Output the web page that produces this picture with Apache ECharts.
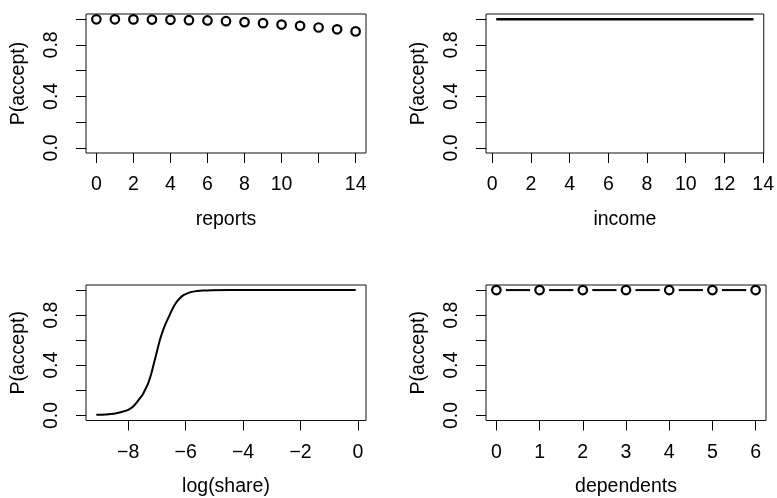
<!DOCTYPE html>
<html><head><meta charset="utf-8">
<script src="https://cdn.jsdelivr.net/npm/echarts@6/dist/echarts.min.js"></script>
<style>html,body{margin:0;padding:0;background:#fff}#c{width:777px;height:498px}</style>
</head><body><div id="c"></div>
<script>
// ---- data ----
const reportsX = [0,1,2,3,4,5,6,7,8,9,10,11,12,13,14];
const reportsP = [0.999,0.999,0.998,0.997,0.995,0.992,0.990,0.984,0.977,0.969,0.958,0.948,0.935,0.921,0.905];
const incomeX = [0.21,2,4,6,8,10,12,13.5];
const incomeP = [0.9995,0.9995,0.9995,0.9995,0.9995,0.9995,0.9995,0.9995];
const logShareX = [-9.11,-8.8,-8.5,-8.2,-8.0,-7.8,-7.6,-7.5,-7.4,-7.3,-7.2,-7.1,-7.0,-6.9,-6.8,-6.7,-6.6,-6.5,-6.4,-6.3,-6.2,-6.1,-6.0,-5.8,-5.6,-5.4,-5.1,-4.5,-4.0,-3.0,-2.0,-1.0,-0.08];
const logShareP = [0.005,0.008,0.014,0.03,0.045,0.078,0.135,0.165,0.21,0.26,0.33,0.42,0.51,0.6,0.67,0.73,0.78,0.83,0.875,0.91,0.935,0.955,0.967,0.985,0.992,0.996,0.999,1,1,1,1,1,1];
const dependentsX = [0,1,2,3,4,5,6];
const dependentsP = [0.9995,0.9995,0.9995,0.9995,0.9995,0.9995,0.9995];

// ---- tick marks and tick labels ----
const yTicks = [0,0.2,0.4,0.6,0.8,1.0];
const yTickLabels = [0,0.4,0.8];
const reportsTicks = [0,2,4,6,8,10,12,14];
const reportsTickLabels = [0,2,4,6,8,10,14];
const incomeTicks = [0,2,4,6,8,10,12,14];
const logShareTicks = [-8,-6,-4,-2,0];
const dependentsTicks = [0,1,2,3,4,5,6];

const FONT = "'Liberation Sans', Arial, Helvetica, sans-serif";
const FS = 19.5;
const pair = (xs, ys) => xs.map((x, i) => [x, ys[i]]);

function xAxis(idx, min, max, ticks, labels, name) {
  return {
    type: 'value', gridIndex: idx, min: min, max: max, name: name, position: 'bottom',
    nameLocation: 'middle', nameGap: 56.5,
    nameTextStyle: {color: '#000', fontFamily: FONT, fontSize: FS},
    axisLine: {show: false, onZero: false},
    axisTick: {show: true, inside: false, length: 10, customValues: ticks, lineStyle: {color: '#000', width: 1}},
    axisLabel: {show: true, margin: 22, customValues: labels, color: '#000', fontFamily: FONT, fontSize: FS,
      formatter: v => (v < 0 ? '\u2212' + Math.abs(v) : String(v))},
    splitLine: {show: false}
  };
}
function yAxis(idx) {
  return {
    type: 'value', gridIndex: idx, min: -0.04, max: 1.04, name: 'P(accept)', position: 'left',
    nameLocation: 'middle', nameGap: 57,
    nameTextStyle: {color: '#000', fontFamily: FONT, fontSize: FS},
    axisLine: {show: false, onZero: false},
    axisTick: {show: true, inside: false, length: 10, customValues: yTicks, lineStyle: {color: '#000', width: 1}},
    axisLabel: {show: true, rotate: 90, margin: 24, customValues: yTickLabels, color: '#000', fontFamily: FONT, fontSize: FS,
      formatter: v => v.toFixed(1)},
    splitLine: {show: false}
  };
}
const gridStyle = {show: true, borderColor: '#111', borderWidth: 1, backgroundColor: 'transparent'};

const option = {
  animation: false,
  backgroundColor: '#fff',
  grid: [
    Object.assign({left: 86, top: 14, width: 280, height: 139}, gridStyle),
    Object.assign({left: 486, top: 14, width: 280, height: 139}, gridStyle),
    Object.assign({left: 86, top: 285, width: 280, height: 139}, gridStyle),
    Object.assign({left: 486, top: 285, width: 280, height: 139}, gridStyle)
  ],
  xAxis: [
    xAxis(0, -0.56, 14.56, reportsTicks, reportsTickLabels, 'reports'),
    xAxis(1, -0.32, 14.03, incomeTicks, incomeTicks, 'income'),
    xAxis(2, -9.47, 0.28, logShareTicks, logShareTicks, 'log(share)'),
    xAxis(3, -0.24, 6.24, dependentsTicks, dependentsTicks, 'dependents')
  ],
  yAxis: [yAxis(0), yAxis(1), yAxis(2), yAxis(3)],
  series: [
    {type: 'scatter', xAxisIndex: 0, yAxisIndex: 0, data: pair(reportsX, reportsP),
      symbol: 'circle', symbolSize: 8.5, itemStyle: {color: 'transparent', borderColor: '#000', borderWidth: 2.2, opacity: 1}},
    {type: 'line', xAxisIndex: 1, yAxisIndex: 1, data: pair(incomeX, incomeP), showSymbol: false, symbol: 'none',
      lineStyle: {color: '#000', width: 2.6}},
    {type: 'line', xAxisIndex: 2, yAxisIndex: 2, data: pair(logShareX, logShareP), showSymbol: false, symbol: 'none',
      smooth: 0.3, lineStyle: {color: '#000', width: 2}},
    {type: 'custom', xAxisIndex: 3, yAxisIndex: 3, data: pair(dependentsX, dependentsP),
      renderItem: function (params, api) {
        const i = params.dataIndex;
        if (i >= dependentsX.length - 1) return null;
        const p0 = api.coord([dependentsX[i], dependentsP[i]]);
        const p1 = api.coord([dependentsX[i + 1], dependentsP[i + 1]]);
        const gap = 9.5;
        const dx = p1[0] - p0[0], dy = p1[1] - p0[1];
        const len = Math.sqrt(dx * dx + dy * dy);
        const ux = dx / len, uy = dy / len;
        return {type: 'line', shape: {x1: p0[0] + ux * gap, y1: p0[1] + uy * gap, x2: p1[0] - ux * gap, y2: p1[1] - uy * gap},
          style: {stroke: '#000', lineWidth: 2}};
      }},
    {type: 'scatter', xAxisIndex: 3, yAxisIndex: 3, data: pair(dependentsX, dependentsP),
      symbol: 'circle', symbolSize: 8.5, itemStyle: {color: 'transparent', borderColor: '#000', borderWidth: 2.2, opacity: 1}}
  ]
};
const chart = echarts.init(document.getElementById('c'), null, {renderer: 'canvas'});
chart.setOption(option);
</script></body></html>
